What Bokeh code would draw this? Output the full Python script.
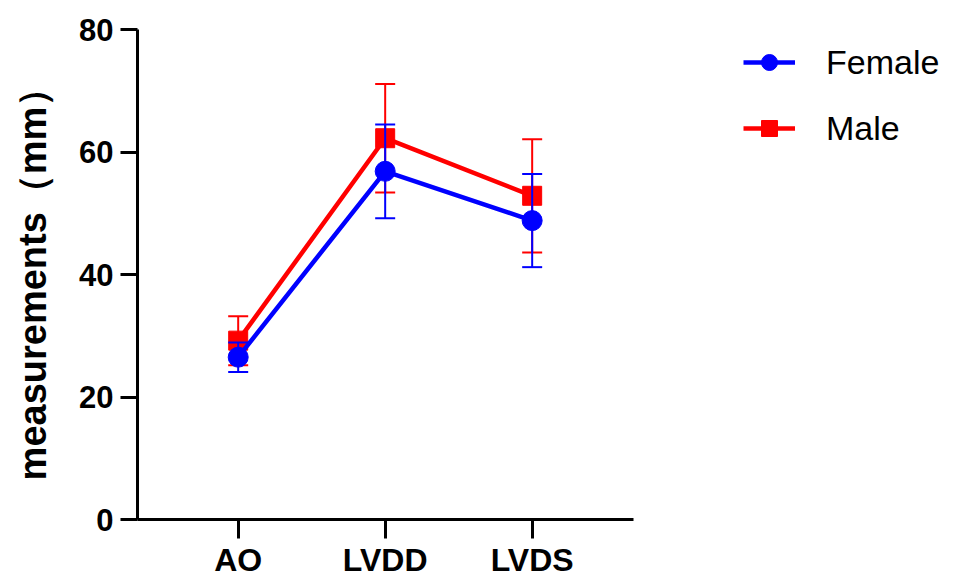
from bokeh.plotting import figure
from bokeh.models import ColumnDataSource, FixedTicker, Legend, LegendItem
from bokeh.embed import file_html
from bokeh.resources import INLINE

categories = ["AO", "LVDD", "LVDS"]
female_mean = [26.5, 56.85, 48.8]
female_sd = [2.4, 7.65, 7.6]
male_mean = [29.2, 62.25, 52.85]
male_sd = [4.0, 8.85, 9.25]
y_ticks = [0, 20, 40, 60, 80]

xpos = [i + 1 for i in range(len(categories))]

def src(mean, sd):
    return ColumnDataSource(dict(
        x=xpos, y=mean,
        lo=[m - s for m, s in zip(mean, sd)],
        hi=[m + s for m, s in zip(mean, sd)],
    ))

fs = src(female_mean, female_sd)
ms = src(male_mean, male_sd)

p = figure(width=960, height=580, output_backend="svg", toolbar_location=None,
           x_range=(0.315, 5.914), y_range=(0, 80),
           min_border_left=137, min_border_right=0, min_border_top=29, min_border_bottom=61)
p.outline_line_color = None
p.xgrid.visible = False
p.ygrid.visible = False
p.background_fill_color = "white"

FONT = "Liberation Sans"

def draw(s, color, marker, size):
    ln = p.line("x", "y", source=s, line_color=color, line_width=4.5)
    p.segment(x0="x", y0="lo", x1="x", y1="hi", source=s, line_color=color, line_width=2)
    p.scatter("x", "lo", source=s, marker="dash", size=20, line_color=color, line_width=2)
    p.scatter("x", "hi", source=s, marker="dash", size=20, line_color=color, line_width=2)
    mk = p.scatter("x", "y", source=s, marker=marker, size=size, fill_color=color, line_color=color, line_width=1)
    return ln, mk

mln, mmk = draw(ms, "#FF0000", "square", 19)
fln, fmk = draw(fs, "#0000FF", "circle", 20)

# axes
p.xaxis.ticker = FixedTicker(ticks=xpos)
p.xaxis.major_label_overrides = {x: c for x, c in zip(xpos, categories)}
p.xaxis.bounds = (0.315, 3.69)
p.yaxis.ticker = FixedTicker(ticks=y_ticks)
for ax in (p.xaxis[0], p.yaxis[0]):
    ax.axis_line_width = 3
    ax.axis_line_color = "black"
    ax.major_tick_line_width = 3
    ax.major_tick_line_color = "black"
    ax.minor_tick_line_color = None
    ax.major_tick_in = 0
    ax.major_label_text_font = FONT
    ax.major_label_text_font_style = "bold"
    ax.major_label_text_color = "black"

p.xaxis.major_tick_out = 19
p.xaxis.major_label_standoff = 3
p.xaxis.major_label_text_font_size = "32px"
p.yaxis.major_tick_out = 17
p.yaxis.major_label_standoff = 7
p.yaxis.major_label_text_font_size = "31px"

p.yaxis.axis_label = "measurements（mm）"
p.yaxis.axis_label_text_font = FONT
p.yaxis.axis_label_text_font_style = "bold"
p.yaxis.axis_label_text_font_size = "38px"
p.yaxis.axis_label_text_color = "black"
p.yaxis.axis_label_standoff = 22

legend = Legend(items=[
    LegendItem(label="Female", renderers=[fln, fmk]),
    LegendItem(label="Male", renderers=[mln, mmk]),
], location=(606, 371))
legend.border_line_color = None
legend.background_fill_alpha = 0
legend.margin = 0
legend.padding = 0
legend.spacing = 26
legend.glyph_width = 52
legend.glyph_height = 40
legend.label_height = 40
legend.label_standoff = 31
legend.label_text_font = FONT
legend.label_text_font_size = "34px"
legend.label_text_color = "black"
p.add_layout(legend)

open("out.html", "w").write(file_html(p, INLINE))
